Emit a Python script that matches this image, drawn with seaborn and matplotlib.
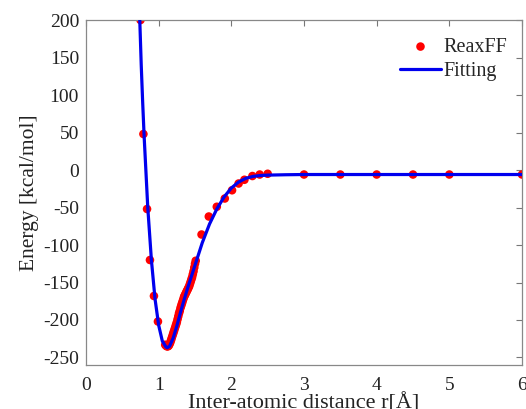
import matplotlib
matplotlib.use("Agg")
import matplotlib.pyplot as plt
import seaborn as sns
import pandas as pd

# ReaxFF data points
reax_r = [0.75, 0.79, 0.84, 0.88, 0.935, 0.99,
          1.09, 1.10, 1.11, 1.12, 1.13, 1.14, 1.15, 1.16, 1.17, 1.18, 1.19,
          1.20, 1.21, 1.22, 1.23, 1.24, 1.25, 1.26, 1.27, 1.28, 1.29,
          1.30, 1.31, 1.32, 1.33, 1.34, 1.35, 1.36, 1.37, 1.38, 1.39,
          1.40, 1.41, 1.42, 1.43, 1.44, 1.45, 1.46, 1.47, 1.48, 1.49, 1.50, 1.51,
          1.59, 1.69, 1.80, 1.91, 2.01, 2.10, 2.18, 2.29, 2.39, 2.5,
          3.0, 3.5, 4.0, 4.5, 5.0, 6.0]
reax_e = [200, 48, -52, -120, -168, -202,
          -233, -234, -235, -235, -235, -234, -232, -230, -227, -224, -221,
          -218, -215, -212, -209, -206, -203, -199, -195, -191, -188,
          -184, -181, -178, -175, -172, -169, -167, -165, -163, -161,
          -159, -157, -155, -152, -149, -146, -143, -139, -135, -130, -125, -121,
          -86, -62, -49, -38, -27, -18, -13, -8, -6, -5,
          -6, -6, -6, -6, -6, -6]

# Fitted curve
fit_r = [0.74, 0.76, 0.78, 0.8, 0.85, 0.9, 0.95, 1.0, 1.05, 1.1, 1.12, 1.15,
         1.2, 1.25, 1.3, 1.35, 1.4, 1.45, 1.5, 1.6, 1.7, 1.8, 1.9, 2.0, 2.1,
         2.2, 2.3, 2.4, 2.5, 2.75, 3.0, 4.0, 5.0, 6.0]
fit_e = [200, 140, 90, 45, -50, -120, -172, -207, -228, -236, -237, -235,
         -224, -208, -190, -173, -157, -142, -127, -97, -72, -52, -36, -24, -16,
         -11, -8.5, -7.3, -6.8, -6.3, -6, -6, -6, -6]

xticks = [0, 1, 2, 3, 4, 5, 6]
yticks = [-250, -200, -150, -100, -50, 0, 50, 100, 150, 200]

sns.set_style("white")
plt.rcParams['font.family'] = ['Liberation Serif', 'DejaVu Serif']
plt.rcParams['axes.unicode_minus'] = False

fig = plt.figure(figsize=(5.26, 4.09), dpi=100)
ax = fig.add_axes([0.1635, 0.1076, 0.8289, 0.8434])

df_pts = pd.DataFrame({"r": reax_r, "E": reax_e})
df_fit = pd.DataFrame({"r": fit_r, "E": fit_e})

sns.scatterplot(data=df_pts, x="r", y="E", ax=ax, color="#ff0000", s=38,
                edgecolor="none", label="ReaxFF", zorder=2)
sns.lineplot(data=df_fit, x="r", y="E", ax=ax, color="#0000ee", linewidth=2.3,
             label="Fitting", zorder=3, sort=False)

ax.set_xlim(0, 6)
ax.set_ylim(-260, 200)
ax.set_xticks(xticks)
ax.set_yticks(yticks)
ax.tick_params(direction="in", top=True, right=True, length=4, width=0.8,
               colors="#777777", labelcolor="#222222", labelsize=14)
ax.tick_params(axis="x", pad=9)
ax.tick_params(axis="y", pad=5)
for sp in ax.spines.values():
    sp.set_color("#888888")
    sp.set_linewidth(0.9)
    sp.set_visible(True)

ax.set_xlabel("Inter-atomic distance r[Å]", fontsize=16, color="#222222", labelpad=-1)
ax.set_ylabel("Energy [kcal/mol]", fontsize=15.5, color="#222222", labelpad=3)

leg = ax.legend(loc="upper right", frameon=False, fontsize=14.5,
                handlelength=2.0, handletextpad=0.15, borderaxespad=0.0,
                labelspacing=0.25, bbox_to_anchor=(0.985, 0.972))

fig.savefig("out.png", dpi=100)
